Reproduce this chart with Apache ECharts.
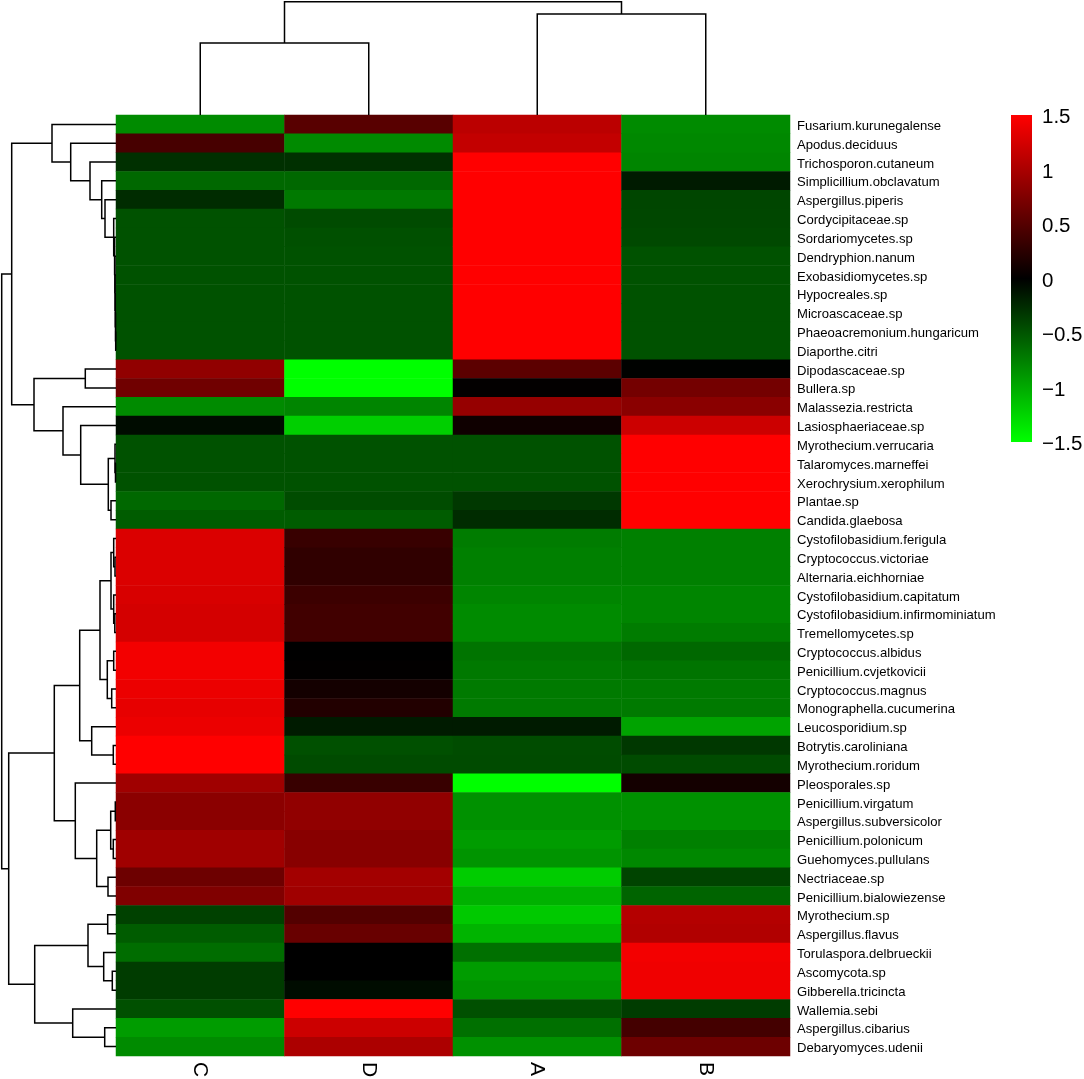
<!DOCTYPE html>
<html>
<head>
<meta charset="utf-8">
<title>Heatmap</title>
<script src="https://cdn.jsdelivr.net/npm/echarts@6/dist/echarts.min.js"></script>
<style>
  html, body { margin: 0; padding: 0; background: #fff; }
  #main { width: 1084px; height: 1079px; }
</style>
</head>
<body>
<div id="main"></div>
<script>
const columns = ['C', 'D', 'A', 'B'];

const rows = [
  'Fusarium.kurunegalense', 'Apodus.deciduus', 'Trichosporon.cutaneum', 'Simplicillium.obclavatum',
  'Aspergillus.piperis', 'Cordycipitaceae.sp', 'Sordariomycetes.sp', 'Dendryphion.nanum',
  'Exobasidiomycetes.sp', 'Hypocreales.sp', 'Microascaceae.sp', 'Phaeoacremonium.hungaricum',
  'Diaporthe.citri', 'Dipodascaceae.sp', 'Bullera.sp', 'Malassezia.restricta',
  'Lasiosphaeriaceae.sp', 'Myrothecium.verrucaria', 'Talaromyces.marneffei', 'Xerochrysium.xerophilum',
  'Plantae.sp', 'Candida.glaebosa', 'Cystofilobasidium.ferigula', 'Cryptococcus.victoriae',
  'Alternaria.eichhorniae', 'Cystofilobasidium.capitatum', 'Cystofilobasidium.infirmominiatum', 'Tremellomycetes.sp',
  'Cryptococcus.albidus', 'Penicillium.cvjetkovicii', 'Cryptococcus.magnus', 'Monographella.cucumerina',
  'Leucosporidium.sp', 'Botrytis.caroliniana', 'Myrothecium.roridum', 'Pleosporales.sp',
  'Penicillium.virgatum', 'Aspergillus.subversicolor', 'Penicillium.polonicum', 'Guehomyces.pullulans',
  'Nectriaceae.sp', 'Penicillium.bialowiezense', 'Myrothecium.sp', 'Aspergillus.flavus',
  'Torulaspora.delbrueckii', 'Ascomycota.sp', 'Gibberella.tricincta', 'Wallemia.sebi',
  'Aspergillus.cibarius', 'Debaryomyces.udenii'
];

const valuesC = [
  -0.82, 0.42, -0.28, -0.61, -0.26, -0.48, -0.48, -0.48, -0.48, -0.48,
  -0.48, -0.48, -0.48, 0.85, 0.66, -0.82, -0.07, -0.48, -0.48, -0.48,
  -0.61, -0.54, 1.29, 1.29, 1.29, 1.27, 1.25, 1.25, 1.43, 1.43,
  1.39, 1.36, 1.39, 1.5, 1.5, 0.94, 0.82, 0.82, 0.94, 0.94,
  0.64, 0.75, -0.38, -0.54, -0.64, -0.35, -0.35, -0.47, -0.92, -0.82
];
const valuesD = [
  0.52, -0.81, -0.28, -0.61, -0.71, -0.44, -0.47, -0.48, -0.48, -0.48,
  -0.48, -0.48, -0.48, -1.5, -1.5, -0.78, -1.22, -0.48, -0.48, -0.48,
  -0.45, -0.54, 0.33, 0.28, 0.28, 0.35, 0.38, 0.38, 0, 0.01,
  0.12, 0.2, -0.16, -0.47, -0.44, 0.33, 0.85, 0.85, 0.8, 0.8,
  0.96, 0.94, 0.49, 0.61, 0, 0, -0.07, 1.5, 1.2, 1.01
];
const valuesA = [
  1.1, 1.15, 1.5, 1.5, 1.5, 1.5, 1.5, 1.5, 1.5, 1.5,
  1.5, 1.5, 1.5, 0.54, 0.02, 0.88, 0.09, -0.48, -0.48, -0.48,
  -0.33, -0.26, -0.73, -0.75, -0.75, -0.78, -0.82, -0.82, -0.68, -0.71,
  -0.72, -0.72, -0.16, -0.45, -0.44, -1.5, -0.85, -0.85, -0.92, -0.87,
  -1.2, -1.04, -1.18, -1.06, -0.66, -0.92, -0.87, -0.47, -0.66, -0.85
];
const valuesB = [
  -0.82, -0.8, -0.78, -0.16, -0.41, -0.42, -0.43, -0.48, -0.48, -0.48,
  -0.48, -0.48, -0.48, -0.01, 0.68, 0.81, 1.2, 1.5, 1.5, 1.5,
  1.5, 1.5, -0.75, -0.75, -0.75, -0.78, -0.78, -0.73, -0.61, -0.68,
  -0.72, -0.72, -0.96, -0.33, -0.44, 0.12, -0.85, -0.85, -0.75, -0.8,
  -0.4, -0.59, 1.06, 1.04, 1.43, 1.41, 1.41, -0.35, 0.4, 0.64
];
const columnValues = [valuesC, valuesD, valuesA, valuesB];

const colorTicks = [-1.5, -1, -0.5, 0, 0.5, 1, 1.5];
const rampColors = ['#00ff00', '#000000', '#ff0000'];

// clusters as [height, child, child], a plain number is a leaf (1-based position)
const ladder = [1.4, 7, [1.1, 8, [0.9, 9, [0.7, 10, [0.5, 11, [0.3, 12, 13]]]]]];
const rowTreeTop = [104.3,
  [64, 1, [45.3, 2, [26, 3, [14.3, 4, [11, 5, [2.3, 6, ladder]]]]]],
  [82,
    [30.7, 14, 15],
    [53, 16, [35.3, 17, [7.7, [1, 18, [0.5, 19, 20]], [5, 21, 22]]]]
  ]
];
const rowTreeBottom = [107.3,
  [61.7,
    [36.3,
      [16,
        [5, [2.3, 23, [1, 24, 25]], [2.3, 26, [1.2, 27, 28]]],
        [8.7, [2.3, 29, 30], [4.3, 31, 32]]
      ],
      [24.3, 33, [2.7, 34, 35]]
    ],
    [40.7, 36, [19.3, [5.3, [0.7, 37, 38], [2.7, 39, 40]], [8, 41, 42]]]
  ],
  [81.3,
    [28, [8.3, 43, 44], [12.3, 45, [3.7, 46, 47]]],
    [43.3, 48, [11.3, 49, 50]]
  ]
];
const rowTree = [114.3, rowTreeTop, rowTreeBottom];
const colTree = [113.3, [72, 1, 2], [101, 3, 4]];

// flatten a tree to [height, pos1, height1, pos2, height2] per merge
function flatten(tree) {
  const out = [];
  function walk(node) {
    if (typeof node === 'number') return { pos: node - 0.5, h: 0 };
    const a = walk(node[1]);
    const b = walk(node[2]);
    out.push([node[0], a.pos, a.h, b.pos, b.h]);
    return { pos: (a.pos + b.pos) / 2, h: node[0] };
  }
  walk(tree);
  return out;
}

function dendroRender(horizontal) {
  return function (params, api) {
    const h = api.value(0), p1 = api.value(1), h1 = api.value(2), p2 = api.value(3), h2 = api.value(4);
    const pt = (height, pos) => api.coord(horizontal ? [height, pos] : [pos, height]);
    return {
      type: 'polyline',
      shape: { points: [pt(h1, p1), pt(h, p1), pt(h, p2), pt(h2, p2)] },
      style: { fill: null, stroke: '#000', lineWidth: 1.5 }
    };
  };
}

// visualMap's own bar has clipped round corners, so the colour key is a plain rect on its axis
function colorBarRender(params, api) {
  const a = api.coord([0, api.value(1)]);
  const b = api.coord([1, api.value(0)]);
  return {
    type: 'rect',
    shape: { x: a[0], y: a[1], width: b[0] - a[0], height: b[1] - a[1] },
    style: {
      fill: new echarts.graphic.LinearGradient(0, 0, 0, 1, [
        { offset: 0, color: rampColors[2] },
        { offset: 0.5, color: rampColors[1] },
        { offset: 1, color: rampColors[0] }
      ])
    }
  };
}

const heatData = [];
columns.forEach((c, i) => {
  rows.forEach((r, j) => {
    heatData.push([i, j, columnValues[i][j]]);
  });
});

const font = '"Liberation Sans", Arial, sans-serif';
const myChart = echarts.init(document.getElementById('main'), null, { renderer: 'canvas' });

myChart.setOption({
  backgroundColor: '#fff',
  animation: false,
  textStyle: { fontFamily: font },
  grid: [
    { left: 116, top: 115, width: 674, height: 941, outerBoundsMode: 'none' },
    { left: 0, top: 115, width: 116, height: 941, outerBoundsMode: 'none' },
    { left: 116, top: 0, width: 674, height: 115, outerBoundsMode: 'none' },
    { left: 1011, top: 115, width: 21, height: 327, outerBoundsMode: 'none' }
  ],
  xAxis: [
    {
      gridIndex: 0, type: 'category', data: columns, position: 'bottom',
      axisLine: { show: false }, axisTick: { show: false }, splitLine: { show: false },
      axisLabel: { rotate: -90, margin: 6, fontSize: 21, color: '#000', fontFamily: font }
    },
    { gridIndex: 1, type: 'value', min: 0, max: 116, inverse: true, show: false },
    { gridIndex: 2, type: 'value', min: 0, max: 4, show: false },
    { gridIndex: 3, type: 'value', min: 0, max: 1, show: false }
  ],
  yAxis: [
    {
      gridIndex: 0, type: 'category', data: rows, inverse: true, position: 'right',
      axisLine: { show: false }, axisTick: { show: false }, splitLine: { show: false },
      axisLabel: {
        interval: 0, margin: 7, fontSize: 13.1, color: '#000', fontFamily: font,
        verticalAlign: 'top', lineHeight: 4 // nudges the text a little below the row centre
      }
    },
    { gridIndex: 1, type: 'value', min: 0, max: 50, inverse: true, show: false },
    { gridIndex: 2, type: 'value', min: 0, max: 115, show: false },
    {
      gridIndex: 3, type: 'value', min: colorTicks[0], max: colorTicks[colorTicks.length - 1], interval: 0.5,
      position: 'right',
      axisLine: { show: false }, axisTick: { show: false }, splitLine: { show: false },
      axisLabel: {
        margin: 10, fontSize: 20.5, color: '#000', fontFamily: font,
        verticalAlign: 'top', lineHeight: 5,
        formatter: (v) => String(v).replace('-', '\u2212')
      }
    }
  ],
  visualMap: {
    type: 'continuous',
    show: false,
    seriesIndex: 0,
    min: -1.5,
    max: 1.5,
    inRange: { color: rampColors }
  },
  series: [
    {
      type: 'heatmap',
      xAxisIndex: 0,
      yAxisIndex: 0,
      data: heatData,
      progressive: 0,
      emphasis: { disabled: true }
    },
    {
      type: 'custom',
      xAxisIndex: 1,
      yAxisIndex: 1,
      data: flatten(rowTree),
      renderItem: dendroRender(true),
      clip: false,
      silent: true
    },
    {
      type: 'custom',
      xAxisIndex: 2,
      yAxisIndex: 2,
      data: flatten(colTree),
      renderItem: dendroRender(false),
      clip: false,
      silent: true
    },
    {
      type: 'custom',
      xAxisIndex: 3,
      yAxisIndex: 3,
      data: [[colorTicks[0], colorTicks[colorTicks.length - 1]]],
      renderItem: colorBarRender,
      silent: true
    }
  ]
});
</script>
</body>
</html>
